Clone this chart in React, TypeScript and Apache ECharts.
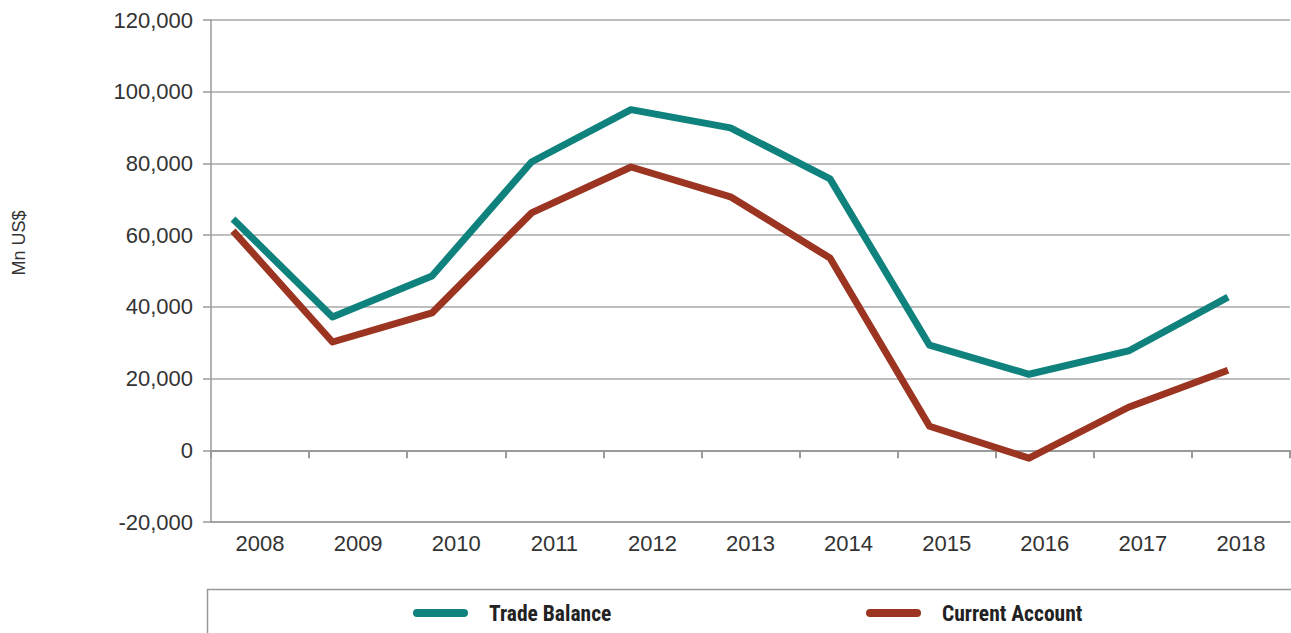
import React, { useEffect, useRef } from "react";
import * as echarts from "echarts";

const years = ["2008", "2009", "2010", "2011", "2012", "2013", "2014", "2015", "2016", "2017", "2018"];
const tradeBalance = [64500, 37200, 48600, 80400, 95000, 89900, 75700, 29300, 21200, 27700, 42700];
const currentAccount = [61200, 30200, 38300, 66200, 79000, 70700, 53600, 6700, -2200, 12000, 22300];
const yTicks = { min: -20000, max: 120000, interval: 20000 };
const seriesNames = ["Trade Balance", "Current Account"];
const colors = ["#10827d", "#9b3421"];
const yTitle = "Mn US$";

const axisGray = "#9a9a9a";
const tickFont = "'Liberation Sans', Arial, sans-serif";
const legendIcon = "path://M4 0H51A4 4 0 0 1 51 8H4A4 4 0 0 1 4 0Z";

export default function App() {
  const ref = useRef<HTMLDivElement>(null);
  useEffect(() => {
    if (!ref.current) return;
    const chart = echarts.init(ref.current, null, { renderer: "svg" });
    const legendText = {
      fontFamily: "'Liberation Sans Narrow', 'Roboto Condensed', 'Liberation Sans', sans-serif",
      fontWeight: "bold" as const,
      fontSize: 21.5,
      color: "#222",
      padding: [0, 0, 0, 16],
    };
    chart.setOption({
      animation: false,
      backgroundColor: "#fff",
      grid: { left: 211, right: 1, top: 20, bottom: 111, containLabel: false },
      xAxis: [
        {
          type: "category",
          data: years,
          position: "bottom",
          boundaryGap: true,
          axisLine: { onZero: false, lineStyle: { color: axisGray, width: 1.5 } },
          axisTick: { show: false },
          splitLine: { show: false },
          axisLabel: { fontFamily: tickFont, fontSize: 22, color: "#333", margin: 10 },
        },
        {
          type: "category",
          data: years,
          position: "bottom",
          boundaryGap: true,
          axisLine: { onZero: true, onZeroAxisIndex: 0, lineStyle: { color: axisGray, width: 2 } },
          axisTick: { show: true, length: 8, inside: false, lineStyle: { color: axisGray, width: 2 } },
          axisLabel: { show: false },
          splitLine: { show: false },
        },
        {
          type: "value",
          min: -0.221,
          max: 10.623,
          show: false,
          splitLine: { show: false },
        },
      ],
      yAxis: {
        type: "value",
        min: yTicks.min,
        max: yTicks.max,
        interval: yTicks.interval,
        axisLine: { show: true, onZero: false, lineStyle: { color: axisGray, width: 1.5 } },
        axisTick: { show: true, length: 8, inside: false, lineStyle: { color: axisGray, width: 1.5 } },
        splitLine: { show: true, lineStyle: { color: "#a8a8a8", width: 1.5 } },
        axisLabel: {
          fontFamily: tickFont,
          fontSize: 22,
          color: "#333",
          margin: 18,
          formatter: (v: number) => v.toLocaleString("en-US"),
        },
      },
      legend: [
        {
          data: [seriesNames[0]],
          left: 413,
          top: 602,
          padding: 0,
          itemWidth: 55,
          itemHeight: 8,
          icon: legendIcon,
          textStyle: legendText,
        },
        {
          data: [seriesNames[1]],
          left: 866,
          top: 602,
          padding: 0,
          itemWidth: 55,
          itemHeight: 8,
          icon: legendIcon,
          textStyle: legendText,
        },
      ],
      graphic: [
        {
          type: "rect",
          shape: { x: 207.5, y: 589.5, width: 1120, height: 100 },
          style: { fill: "none", stroke: "#999", lineWidth: 1.5 },
          z: 0,
        },
        {
          type: "text",
          x: 19,
          y: 243,
          rotation: Math.PI / 2,
          style: {
            text: yTitle,
            fontFamily: tickFont,
            fontSize: 18,
            fill: "#333",
            align: "center",
            verticalAlign: "middle",
          },
        },
      ],
      series: [
        {
          name: seriesNames[0],
          type: "line",
          xAxisIndex: 2,
          data: years.map((_, i) => [i, tradeBalance[i]]),
          showSymbol: false,
          symbol: "none",
          color: colors[0],
          lineStyle: { color: colors[0], width: 7, join: "round", cap: "butt" },
          z: 3,
        },
        {
          name: seriesNames[1],
          type: "line",
          xAxisIndex: 2,
          data: years.map((_, i) => [i, currentAccount[i]]),
          showSymbol: false,
          symbol: "none",
          color: colors[1],
          lineStyle: { color: colors[1], width: 7, join: "round", cap: "butt" },
          z: 3,
        },
      ],
    });
    return () => chart.dispose();
  }, []);
  return (
    <div
      ref={ref}
      style={{ position: "fixed", left: 0, top: 0, width: 1291, height: 633, background: "#fff" }}
    />
  );
}
